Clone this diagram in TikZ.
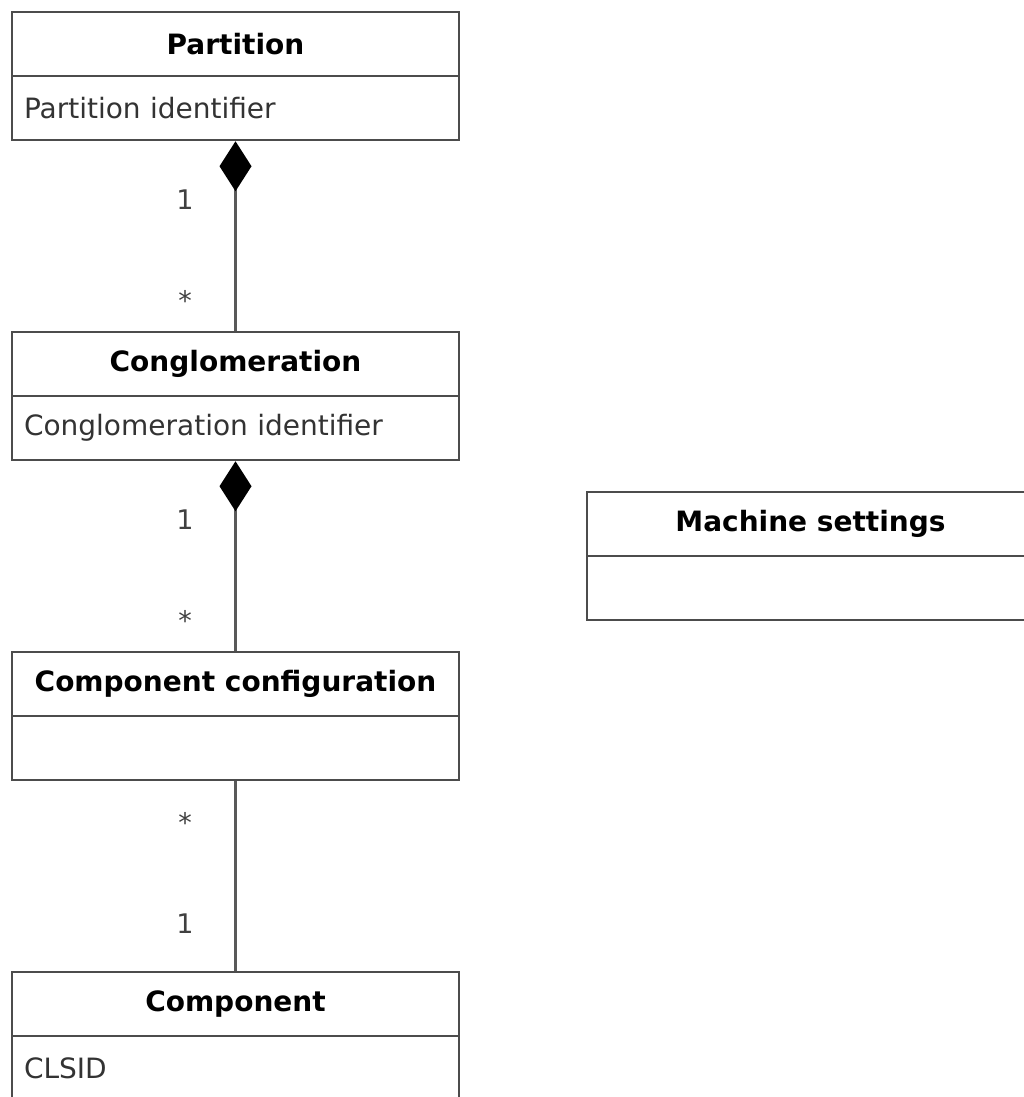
\documentclass[tikz,border=0pt]{standalone}
\usepackage{fontspec}
\setmainfont{DejaVu Sans}
\usetikzlibrary{arrows.meta}
\begin{document}
\begin{tikzpicture}[x=1pt, y=-1pt,
      classname/.style={draw=black!70, line width=2.5pt, minimum width=447pt, minimum height=64pt,
        inner sep=0pt, font=\fontsize{28}{32}\selectfont\bfseries},
      classattr/.style={draw=black!70, line width=2.5pt, minimum height=64pt, inner xsep=12pt,
        text width=423pt, align=left, text=black!80, font=\fontsize{28}{32}\selectfont},
      mult/.style={text=black!75, font=\fontsize{27}{31}\selectfont},
      assoc/.style={draw=black!65, line width=2.5pt},
      owner/.style={assoc, {Diamond[length=50pt, width=32pt, color=black]}-}
    ]
      \useasboundingbox (0,0) rectangle (1023,1097);
      % classes
      \node[classname] (part) at (235.5,44) {Partition};
      \node[classattr] (partattr) at (235.5,108) {Partition identifier};
      \node[classname] (congl) at (235.5,364) {Conglomeration};
      \node[classattr] (conglattr) at (235.5,428) {Conglomeration identifier};
      \node[classname] (compconf) at (235.5,684) {Component configuration};
      \node[classattr] (compconfattr) at (235.5,748) {};
      \node[classname] (comp) at (235.5,1004) {Component};
      \node[classattr] (compattr) at (235.5,1068) {CLSID};
      \node[classname] (machine) at (810.5,524) {Machine settings};
      \node[classattr] (machineattr) at (810.5,588) {};
      % associations
      \draw[owner] (partattr.south) -- (congl.north);
      \draw[owner] (conglattr.south) -- (compconf.north);
      \draw[assoc] (compconfattr.south) -- (comp.north);
      % multiplicities
      \node[mult] (m1) at (185,200) {1};
      \node[mult] (m2) at (185,300) {*};
      \node[mult] (m3) at (185,520) {1};
      \node[mult] (m4) at (185,620) {*};
      \node[mult] (m5) at (185,822) {*};
      \node[mult] (m6) at (185,924) {1};
    \end{tikzpicture}
\end{document}
